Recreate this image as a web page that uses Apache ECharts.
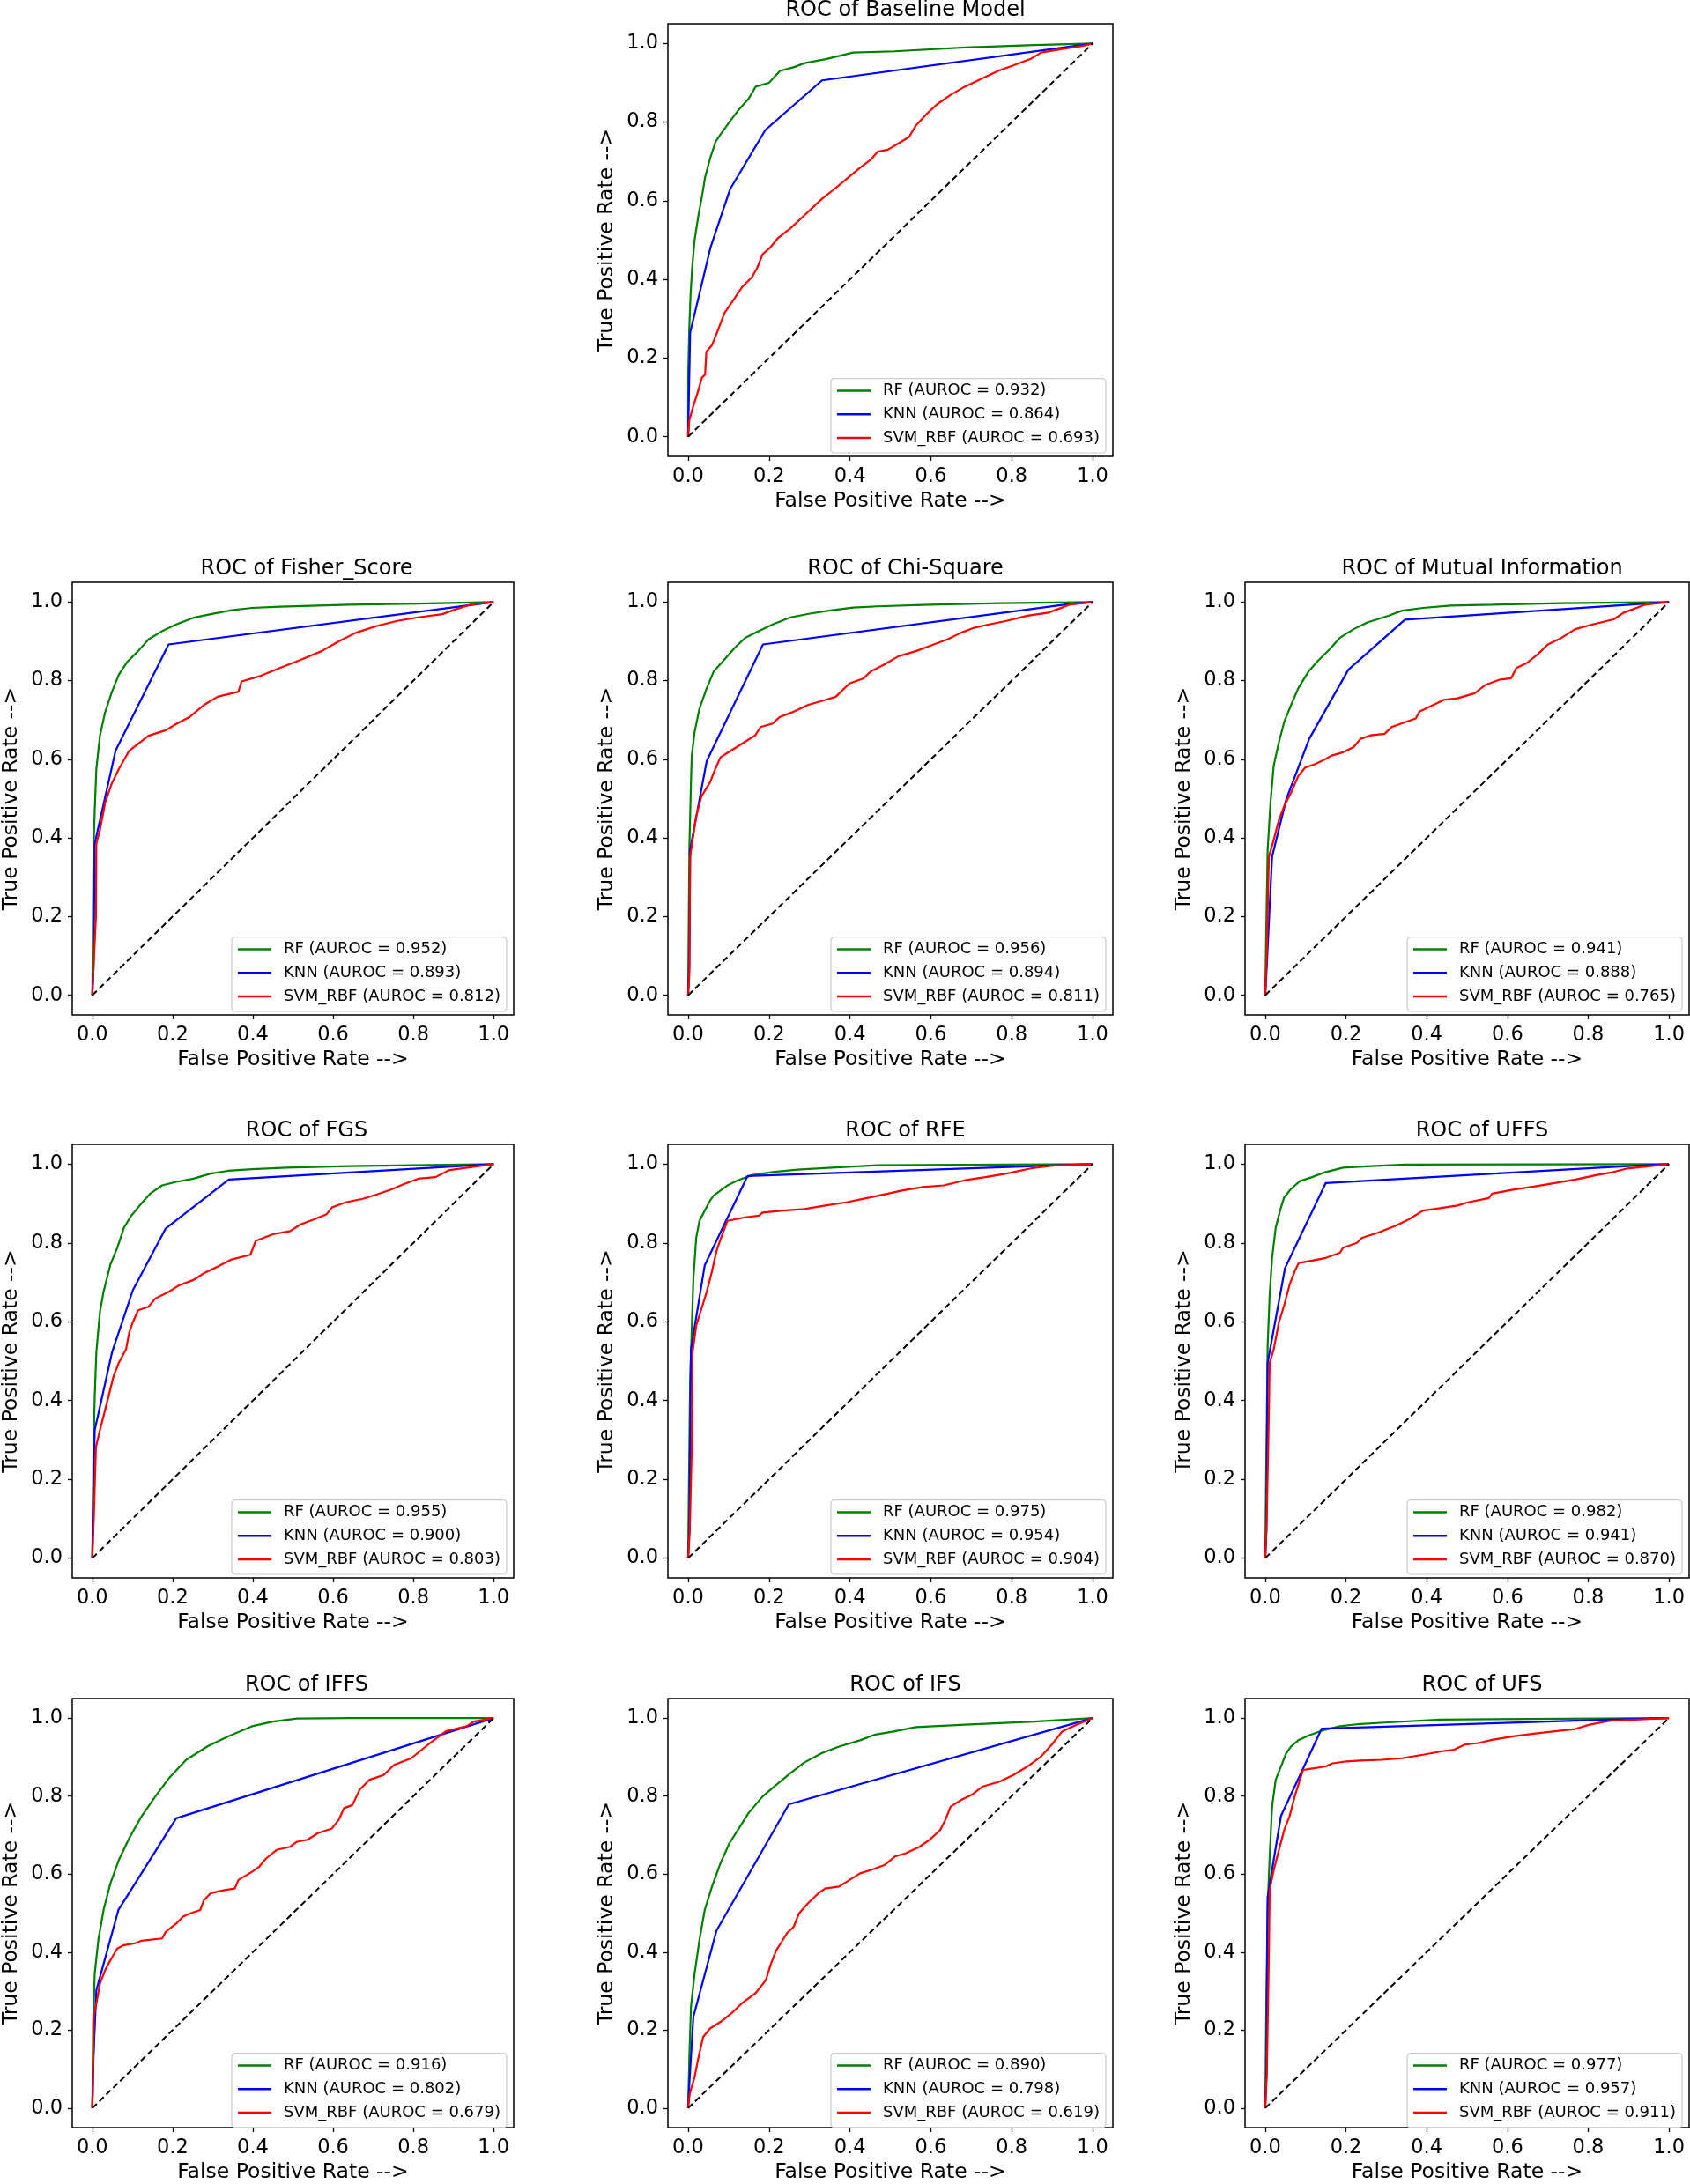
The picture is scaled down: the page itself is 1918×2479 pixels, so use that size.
<!DOCTYPE html>
<html><head><meta charset="utf-8">
<script src="https://cdn.jsdelivr.net/npm/echarts@6/dist/echarts.min.js"></script>
<style>html,body{margin:0;padding:0;background:#fff}#c{width:1918px;height:2479px}</style>
</head><body><div id="c"></div>
<script>
// ---------- DATA ----------
const panelTitles = ['ROC of Baseline Model','ROC of Fisher_Score','ROC of Chi-Square','ROC of Mutual Information','ROC of FGS','ROC of RFE','ROC of UFFS','ROC of IFFS','ROC of IFS','ROC of UFS'];
const aurocRF  = ['0.932','0.952','0.956','0.941','0.955','0.975','0.982','0.916','0.890','0.977'];
const aurocKNN = ['0.864','0.893','0.894','0.888','0.900','0.954','0.941','0.802','0.798','0.957'];
const aurocSVM = ['0.693','0.812','0.811','0.765','0.803','0.904','0.870','0.679','0.619','0.911'];
const tickValues = [0, 0.2, 0.4, 0.6, 0.8, 1.0];
const chanceLine = [[0,0],[1,1]];

const baselineRF = [[0,0],[0,0.15],[0.003,0.28],[0.006,0.36],[0.01,0.43],[0.016,0.5],[0.025,0.56],[0.034,0.61],[0.042,0.66],[0.055,0.71],[0.068,0.75],[0.081,0.77],[0.102,0.8],[0.124,0.83],[0.15,0.86],[0.167,0.89],[0.2,0.9],[0.227,0.93],[0.262,0.94],[0.288,0.95],[0.34,0.96],[0.408,0.977],[0.51,0.98],[0.684,0.99],[0.856,0.996],[1,1]];
const baselineKNN = [[0,0],[0.005,0.265],[0.055,0.48],[0.104,0.63],[0.191,0.78],[0.331,0.906],[0.98,0.997],[1,1]];
const baselineSVM = [[0,0],[0.003,0.042],[0.012,0.075],[0.025,0.117],[0.034,0.15],[0.042,0.158],[0.045,0.216],[0.059,0.233],[0.072,0.266],[0.09,0.315],[0.107,0.34],[0.133,0.38],[0.158,0.406],[0.171,0.43],[0.184,0.464],[0.202,0.48],[0.223,0.506],[0.253,0.53],[0.279,0.555],[0.305,0.58],[0.331,0.605],[0.357,0.626],[0.391,0.655],[0.425,0.684],[0.451,0.704],[0.469,0.725],[0.494,0.73],[0.52,0.746],[0.546,0.762],[0.563,0.791],[0.589,0.82],[0.615,0.845],[0.65,0.87],[0.684,0.89],[0.727,0.911],[0.77,0.932],[0.804,0.944],[0.847,0.961],[0.873,0.977],[0.925,0.986],[0.977,0.994],[1,1]];

const fisherRF = [[0,0],[0.003,0.37],[0.006,0.47],[0.01,0.575],[0.019,0.66],[0.032,0.72],[0.049,0.772],[0.066,0.815],[0.088,0.849],[0.114,0.875],[0.14,0.905],[0.174,0.926],[0.209,0.943],[0.252,0.96],[0.295,0.969],[0.347,0.979],[0.398,0.985],[0.467,0.988],[0.64,0.993],[0.812,0.996],[1,1]];
const fisherKNN = [[0,0],[0.003,0.07],[0.006,0.386],[0.058,0.622],[0.19,0.892],[1,1]];
const fisherSVM = [[0,0],[0.003,0.07],[0.009,0.2],[0.01,0.386],[0.019,0.42],[0.032,0.49],[0.049,0.54],[0.066,0.575],[0.092,0.622],[0.114,0.639],[0.14,0.66],[0.183,0.674],[0.209,0.69],[0.243,0.708],[0.278,0.738],[0.312,0.759],[0.364,0.772],[0.372,0.798],[0.416,0.811],[0.467,0.832],[0.519,0.853],[0.571,0.875],[0.614,0.9],[0.657,0.922],[0.709,0.939],[0.76,0.952],[0.812,0.961],[0.872,0.969],[0.907,0.982],[0.941,0.993],[1,1]];

const chiRF = [[0,0],[0.003,0.37],[0.007,0.54],[0.009,0.609],[0.016,0.669],[0.028,0.729],[0.046,0.781],[0.063,0.823],[0.089,0.853],[0.115,0.883],[0.141,0.909],[0.175,0.926],[0.209,0.943],[0.253,0.961],[0.304,0.971],[0.356,0.979],[0.408,0.986],[0.468,0.989],[0.597,0.993],[0.77,0.997],[1,1]];
const chiKNN = [[0,0],[0.003,0.078],[0.005,0.37],[0.046,0.596],[0.185,0.892],[0.942,0.995],[1,1]];
const chiSVM = [[0,0],[0.003,0.052],[0.005,0.352],[0.011,0.395],[0.02,0.455],[0.033,0.506],[0.054,0.541],[0.067,0.575],[0.08,0.605],[0.106,0.622],[0.132,0.639],[0.166,0.661],[0.179,0.682],[0.209,0.691],[0.227,0.708],[0.261,0.721],[0.296,0.738],[0.339,0.751],[0.365,0.759],[0.399,0.793],[0.434,0.806],[0.451,0.823],[0.485,0.841],[0.52,0.862],[0.563,0.875],[0.597,0.888],[0.641,0.905],[0.675,0.922],[0.709,0.935],[0.744,0.943],[0.787,0.952],[0.839,0.965],[0.891,0.973],[0.942,0.993],[1,1]];

const miRF = [[0,0],[0.003,0.198],[0.006,0.37],[0.013,0.489],[0.021,0.584],[0.034,0.644],[0.047,0.695],[0.064,0.738],[0.082,0.781],[0.107,0.823],[0.133,0.853],[0.159,0.879],[0.185,0.909],[0.219,0.931],[0.253,0.948],[0.305,0.965],[0.339,0.978],[0.391,0.985],[0.459,0.991],[0.562,0.993],[0.734,0.997],[1,1]];
const miKNN = [[0,0],[0.004,0.078],[0.017,0.352],[0.052,0.498],[0.109,0.652],[0.206,0.828],[0.346,0.955],[1,1]];
const miSVM = [[0,0],[0.004,0.112],[0.009,0.352],[0.021,0.395],[0.034,0.446],[0.047,0.481],[0.064,0.515],[0.082,0.558],[0.099,0.579],[0.124,0.588],[0.15,0.601],[0.163,0.609],[0.193,0.618],[0.219,0.631],[0.236,0.652],[0.262,0.661],[0.296,0.665],[0.313,0.682],[0.348,0.695],[0.373,0.704],[0.382,0.721],[0.416,0.738],[0.442,0.751],[0.476,0.755],[0.519,0.768],[0.545,0.789],[0.579,0.802],[0.609,0.806],[0.622,0.832],[0.648,0.845],[0.674,0.866],[0.7,0.892],[0.734,0.909],[0.768,0.931],[0.811,0.943],[0.863,0.956],[0.888,0.973],[0.94,0.993],[1,1]];

const fgsRF = [[0,0],[0.003,0.282],[0.006,0.41],[0.01,0.522],[0.019,0.625],[0.028,0.676],[0.045,0.745],[0.062,0.787],[0.079,0.839],[0.097,0.869],[0.118,0.895],[0.144,0.925],[0.174,0.946],[0.209,0.955],[0.252,0.963],[0.295,0.976],[0.338,0.983],[0.398,0.987],[0.484,0.991],[0.64,0.995],[1,1]];
const fgsKNN = [[0,0],[0.003,0.196],[0.006,0.325],[0.049,0.522],[0.101,0.68],[0.183,0.837],[0.34,0.961],[1,1]];
const fgsSVM = [[0,0],[0.004,0.11],[0.009,0.282],[0.019,0.325],[0.036,0.393],[0.053,0.462],[0.066,0.496],[0.084,0.53],[0.092,0.573],[0.101,0.599],[0.114,0.629],[0.14,0.638],[0.157,0.659],[0.191,0.676],[0.217,0.693],[0.252,0.706],[0.278,0.723],[0.312,0.74],[0.347,0.758],[0.394,0.77],[0.407,0.805],[0.45,0.822],[0.493,0.83],[0.519,0.847],[0.553,0.86],[0.584,0.873],[0.597,0.89],[0.631,0.903],[0.674,0.912],[0.709,0.923],[0.743,0.935],[0.778,0.95],[0.812,0.963],[0.855,0.967],[0.89,0.985],[1,1]];

const rfeRF = [[0,0],[0.003,0.282],[0.005,0.453],[0.009,0.582],[0.013,0.71],[0.02,0.813],[0.028,0.856],[0.041,0.882],[0.054,0.907],[0.063,0.92],[0.08,0.933],[0.097,0.946],[0.123,0.959],[0.158,0.972],[0.209,0.98],[0.27,0.986],[0.356,0.991],[0.468,0.997],[1,1]];
const rfeKNN = [[0,0],[0.003,0.068],[0.007,0.53],[0.041,0.743],[0.147,0.97],[0.856,0.995],[1,1]];
const rfeSVM = [[0,0],[0.004,0.068],[0.009,0.282],[0.011,0.522],[0.02,0.59],[0.033,0.633],[0.046,0.676],[0.059,0.728],[0.07,0.779],[0.08,0.809],[0.097,0.856],[0.141,0.865],[0.175,0.869],[0.184,0.877],[0.235,0.882],[0.287,0.886],[0.339,0.895],[0.391,0.903],[0.442,0.914],[0.494,0.925],[0.528,0.933],[0.58,0.942],[0.632,0.946],[0.684,0.959],[0.735,0.967],[0.787,0.976],[0.847,0.989],[0.899,0.996],[1,1]];

const uffsRF = [[0,0],[0.003,0.282],[0.006,0.539],[0.011,0.668],[0.017,0.762],[0.026,0.839],[0.039,0.89],[0.047,0.916],[0.064,0.937],[0.086,0.957],[0.116,0.967],[0.15,0.98],[0.193,0.991],[0.262,0.995],[0.348,0.999],[1,1]];
const uffsKNN = [[0,0],[0.003,0.068],[0.006,0.496],[0.049,0.736],[0.15,0.952],[0.897,0.995],[1,1]];
const uffsSVM = [[0,0],[0.004,0.11],[0.009,0.368],[0.011,0.496],[0.021,0.53],[0.034,0.599],[0.047,0.642],[0.06,0.693],[0.073,0.728],[0.083,0.749],[0.116,0.755],[0.15,0.762],[0.185,0.775],[0.193,0.788],[0.227,0.8],[0.24,0.813],[0.279,0.826],[0.322,0.843],[0.356,0.86],[0.391,0.882],[0.433,0.888],[0.476,0.895],[0.502,0.903],[0.554,0.914],[0.562,0.925],[0.614,0.935],[0.665,0.943],[0.717,0.952],[0.768,0.961],[0.82,0.972],[0.863,0.98],[0.897,0.989],[1,1]];

const iffsRF = [[0,0],[0.002,0.217],[0.006,0.345],[0.015,0.431],[0.028,0.508],[0.045,0.576],[0.066,0.636],[0.092,0.692],[0.122,0.747],[0.157,0.799],[0.191,0.846],[0.234,0.893],[0.286,0.927],[0.338,0.953],[0.398,0.979],[0.45,0.991],[0.51,0.999],[0.64,1],[1,1]];
const iffsKNN = [[0,0],[0.003,0.131],[0.01,0.302],[0.065,0.508],[0.209,0.743],[1,1]];
const iffsSVM = [[0,0],[0.002,0.088],[0.004,0.238],[0.01,0.268],[0.019,0.319],[0.032,0.354],[0.045,0.379],[0.062,0.409],[0.079,0.418],[0.105,0.422],[0.122,0.429],[0.174,0.435],[0.183,0.452],[0.209,0.473],[0.226,0.491],[0.243,0.499],[0.269,0.508],[0.278,0.533],[0.295,0.551],[0.329,0.559],[0.355,0.563],[0.364,0.585],[0.398,0.606],[0.416,0.619],[0.433,0.64],[0.459,0.662],[0.493,0.67],[0.51,0.683],[0.536,0.688],[0.562,0.705],[0.597,0.717],[0.614,0.739],[0.627,0.769],[0.648,0.777],[0.666,0.816],[0.691,0.842],[0.726,0.854],[0.752,0.88],[0.795,0.897],[0.821,0.919],[0.847,0.94],[0.881,0.966],[0.933,0.979],[0.95,0.991],[1,1]];

const ifsRF = [[0,0],[0.003,0.131],[0.007,0.259],[0.016,0.345],[0.028,0.431],[0.041,0.508],[0.059,0.568],[0.08,0.628],[0.102,0.679],[0.123,0.713],[0.149,0.756],[0.184,0.799],[0.218,0.829],[0.253,0.859],[0.287,0.886],[0.33,0.91],[0.373,0.927],[0.425,0.943],[0.46,0.957],[0.511,0.966],[0.563,0.977],[0.684,0.983],[0.856,0.991],[1,1]];
const ifsKNN = [[0,0],[0.003,0.063],[0.013,0.234],[0.07,0.455],[0.249,0.779],[1,1]];
const ifsSVM = [[0,0],[0.004,0.037],[0.016,0.08],[0.024,0.122],[0.037,0.182],[0.054,0.204],[0.08,0.221],[0.106,0.242],[0.132,0.268],[0.166,0.294],[0.192,0.328],[0.205,0.371],[0.218,0.405],[0.231,0.426],[0.244,0.448],[0.261,0.465],[0.274,0.499],[0.296,0.525],[0.322,0.551],[0.339,0.563],[0.373,0.568],[0.399,0.585],[0.425,0.602],[0.451,0.61],[0.485,0.623],[0.511,0.645],[0.537,0.653],[0.572,0.67],[0.597,0.688],[0.623,0.713],[0.636,0.739],[0.649,0.773],[0.675,0.79],[0.701,0.803],[0.727,0.824],[0.77,0.837],[0.804,0.854],[0.839,0.876],[0.873,0.902],[0.899,0.932],[0.925,0.966],[0.96,0.983],[1,1]];

const ufsRF = [[0,0],[0.003,0.302],[0.006,0.516],[0.011,0.645],[0.017,0.773],[0.026,0.842],[0.039,0.876],[0.052,0.91],[0.064,0.927],[0.082,0.943],[0.107,0.955],[0.142,0.968],[0.185,0.979],[0.236,0.985],[0.305,0.989],[0.433,0.996],[0.562,0.997],[1,1]];
const ufsKNN = [[0,0],[0.003,0.088],[0.006,0.542],[0.039,0.749],[0.14,0.973],[0.854,0.996],[1,1]];
const ufsSVM = [[0,0],[0.004,0.088],[0.009,0.388],[0.011,0.559],[0.021,0.61],[0.034,0.662],[0.047,0.713],[0.06,0.747],[0.073,0.799],[0.086,0.842],[0.094,0.867],[0.124,0.872],[0.15,0.876],[0.167,0.884],[0.202,0.889],[0.236,0.891],[0.288,0.893],[0.339,0.897],[0.391,0.906],[0.433,0.914],[0.468,0.919],[0.494,0.932],[0.528,0.936],[0.562,0.944],[0.614,0.953],[0.665,0.96],[0.717,0.966],[0.768,0.972],[0.803,0.983],[0.854,0.993],[1,1]];

const rfCurves  = [baselineRF, fisherRF, chiRF, miRF, fgsRF, rfeRF, uffsRF, iffsRF, ifsRF, ufsRF];
const knnCurves = [baselineKNN, fisherKNN, chiKNN, miKNN, fgsKNN, rfeKNN, uffsKNN, iffsKNN, ifsKNN, ufsKNN];
const svmCurves = [baselineSVM, fisherSVM, chiSVM, miSVM, fgsSVM, rfeSVM, uffsSVM, iffsSVM, ifsSVM, ufsSVM];

// ---------- LAYOUT ----------
const W = 1918, H = 2479;
const FONT = '"DejaVu Sans", Verdana, sans-serif';
const boxes = [
  {l:758,  t:27,   w:505, h:491},
  {l:79,   t:661,  w:504, h:491},
  {l:758,  t:661,  w:505, h:491},
  {l:1413, t:661,  w:504, h:491},
  {l:79,   t:1299, w:504, h:492},
  {l:758,  t:1299, w:505, h:492},
  {l:1413, t:1299, w:504, h:492},
  {l:79,   t:1928, w:504, h:491},
  {l:758,  t:1928, w:505, h:491},
  {l:1413, t:1928, w:504, h:491}
];
const COLORS = {rf:'#008000', knn:'#0000ff', svm:'#ff0000'};

const grids = [], xAxes = [], yAxes = [], series = [], legends = [], graphics = [];
boxes.forEach((b, i) => {
  grids.push({left:b.l, top:b.t, width:b.w, height:b.h, show:true, borderColor:'#000', borderWidth:1.5, backgroundColor:'transparent'});
  const tick = {show:true, customValues:tickValues, length:5, lineStyle:{color:'#000', width:1.3}};
  const lbl = {customValues:tickValues, formatter:v => v.toFixed(1), color:'#000', fontSize:22.5, fontFamily:FONT};
  xAxes.push({type:'value', gridIndex:i, min:-0.05, max:1.05, position:'bottom',
    splitLine:{show:false}, axisLine:{show:false, onZero:false}, axisTick:tick,
    axisLabel:Object.assign({margin:12}, lbl),
    name:'False Positive Rate -->', nameLocation:'middle', nameGap:39,
    nameTextStyle:{color:'#000', fontSize:23.5, fontFamily:FONT}});
  yAxes.push({type:'value', gridIndex:i, min:-0.05, max:1.05, position:'left',
    splitLine:{show:false}, axisLine:{show:false, onZero:false}, axisTick:tick,
    axisLabel:Object.assign({margin:11}, lbl),
    name:'True Positive Rate -->', nameLocation:'middle', nameGap:57, nameRotate:90,
    nameTextStyle:{color:'#000', fontSize:23.5, fontFamily:FONT}});
  const nRF = 'RF (AUROC = ' + aurocRF[i] + ')';
  const nKNN = 'KNN (AUROC = ' + aurocKNN[i] + ')';
  const nSVM = 'SVM_RBF (AUROC = ' + aurocSVM[i] + ')';
  const mk = (name, data, color) => ({type:'line', name, data, xAxisIndex:i, yAxisIndex:i,
    showSymbol:false, symbol:'none', animation:false, lineStyle:{color, width:2.2}, itemStyle:{color}});
  series.push(mk(nRF, rfCurves[i], COLORS.rf));
  series.push(mk(nKNN, knnCurves[i], COLORS.knn));
  series.push(mk(nSVM, svmCurves[i], COLORS.svm));
  series.push({type:'line', data:chanceLine, xAxisIndex:i, yAxisIndex:i, showSymbol:false, symbol:'none',
    animation:false, lineStyle:{color:'#000', width:2, type:[7,4]}});
  legends.push({data:[nRF, nKNN, nSVM], orient:'vertical', selectedMode:false,
    right: W - (b.l + b.w - 8), bottom: H - (b.t + b.h - 4),
    icon:'rect', itemWidth:38, itemHeight:2.5, itemGap:6.7, padding:[4,7,7,7],
    backgroundColor:'rgba(255,255,255,0.8)', borderColor:'#cccccc', borderWidth:1.2, borderRadius:4,
    textStyle:{fontSize:18, fontFamily:FONT, color:'#000', lineHeight:20, padding:[0,0,0,9]}});
  graphics.push({type:'text', x:b.l + b.w/2 + 17, y:b.t - 3, silent:true,
    style:{text:panelTitles[i], font:'24px ' + FONT, fill:'#000', align:'center', verticalAlign:'bottom',
      textAlign:'center', textVerticalAlign:'bottom'}});
});

const chart = echarts.init(document.getElementById('c'), null, {renderer:'canvas', width:W, height:H});
chart.setOption({
  animation:false,
  backgroundColor:'#ffffff',
  grid:grids, xAxis:xAxes, yAxis:yAxes, series, legend:legends, graphic:graphics
});
</script>
</body></html>
